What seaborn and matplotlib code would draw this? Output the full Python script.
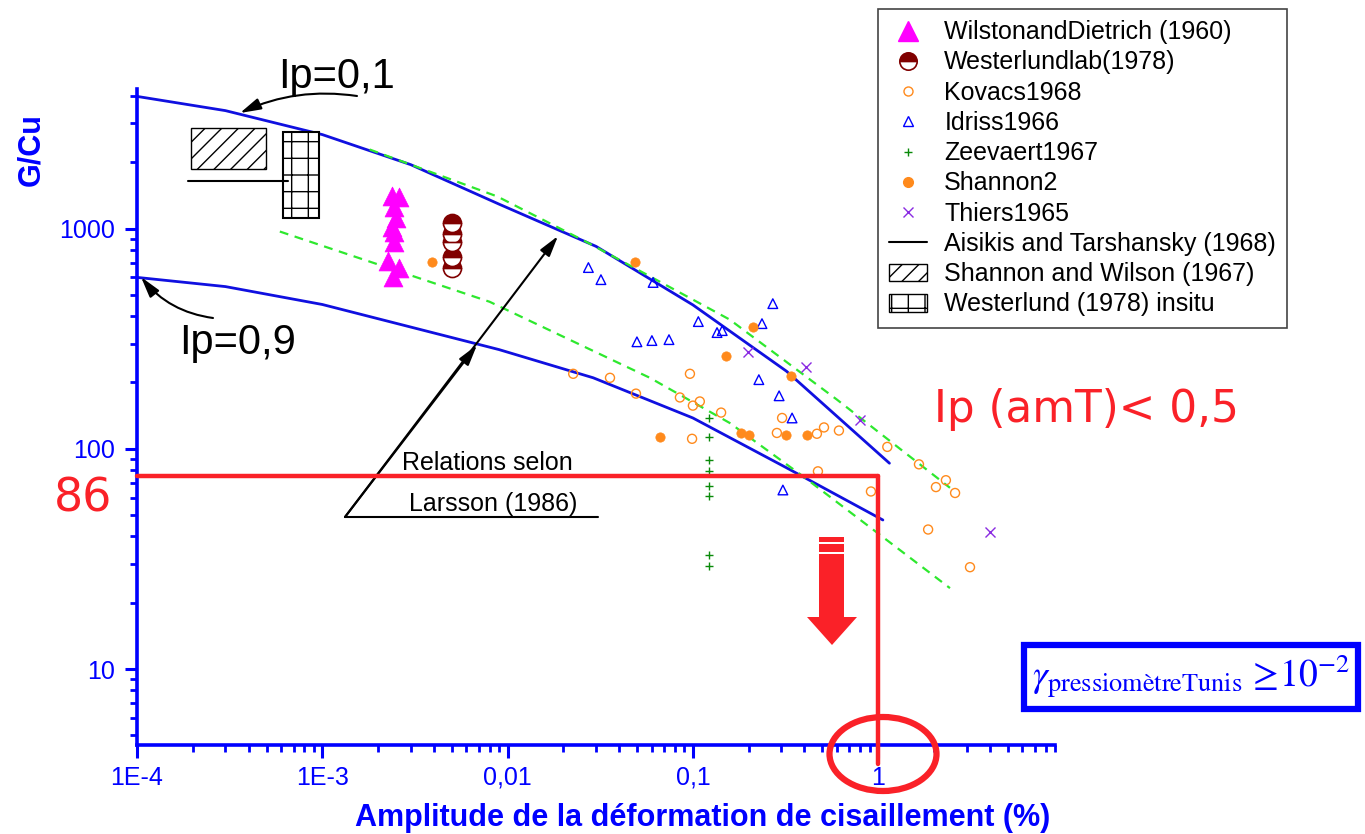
import numpy as np
import matplotlib
matplotlib.use("Agg")
import matplotlib.pyplot as plt
import seaborn as sns
from matplotlib.lines import Line2D
from matplotlib.patches import Patch, Rectangle, Ellipse, Polygon
from matplotlib.ticker import LogLocator, NullFormatter

# --- data (strain amplitude in %, G/Cu) ---
wilson_x = [0.00238, 0.0026, 0.00245, 0.0025, 0.00238, 0.00245, 0.00245, 0.00227, 0.0026, 0.0024]
wilson_y = [1400, 1390, 1250, 1120, 1020, 960, 870, 710, 665, 600]

wlab_x = [0.005, 0.005, 0.005, 0.005, 0.005]
wlab_y = [1065, 940, 865, 745, 665]

kovacs_x = [0.0226, 0.0357, 0.0493, 0.0964, 0.0851, 0.1, 0.109, 0.142, 0.099, 0.284, 0.303,
            0.467, 0.51, 0.614, 0.473, 0.914, 1.12, 1.66, 2.05, 2.32, 2.6, 1.86, 3.13]
kovacs_y = [219, 210, 178, 219, 171, 157, 164, 146, 111, 118, 138,
            117, 125, 121, 79, 64, 102, 85, 67, 72, 63, 43, 29]

idriss_x = [0.0273, 0.0319, 0.061, 0.0499, 0.0601, 0.0743, 0.107, 0.135, 0.144, 0.236, 0.27,
            0.227, 0.292, 0.343, 0.306]
idriss_y = [665, 586, 569, 306, 310, 313, 378, 337, 344, 370, 456,
            206, 174, 138, 65]

zeev_x = [0.1225, 0.1225, 0.1225, 0.1225, 0.1225, 0.1225, 0.1225, 0.1225]
zeev_y = [138, 113, 89, 79, 68, 61, 33, 29.4]

shannon_x = [0.0039, 0.0486, 0.0665, 0.211, 0.151, 0.338, 0.182, 0.201, 0.318, 0.413]
shannon_y = [708, 708, 113, 359, 265, 215, 118, 116, 116, 115]

thiers_x = [0.198, 0.407, 0.798, 4.01]
thiers_y = [276, 236, 135, 42]

# Aisikis and Tarshansky (1968) curves
ip01_x = [1e-4, 3e-4, 1e-3, 3e-3, 9e-3, 0.03, 0.1, 0.32, 1.15]
ip01_y = [3980, 3430, 2670, 1950, 1290, 830, 450, 225, 86]
ip09_x = [1e-4, 3e-4, 1e-3, 9e-3, 0.029, 0.1, 0.32, 1.06]
ip09_y = [600, 545, 452, 282, 210, 138, 82, 47.5]

# Larsson (1986) dashed bounds
lars_up_x = [0.0018, 0.0088, 0.027, 0.158, 0.6, 2.44]
lars_up_y = [2285, 1398, 864, 386, 167, 66.5]
lars_lo_x = [0.00059, 0.008, 0.0586, 0.158, 0.393, 2.44]
lars_lo_y = [969, 465, 210, 131, 75, 23.3]

# Shannon and Wilson (1967) / Westerlund (1978) insitu boxes
sw_box_x = [1.95e-4, 4.97e-4]
sw_box_y = [1854, 2850]
wi_box_x = [6.14e-4, 9.6e-4]
wi_box_y = [1122, 2730]
link_x = [1.88e-4, 6.5e-4]
link_y = [1652, 1652]

# red reading lines (G/Cu label "86" at strain 1 %)
red_y = 75
red_x = 1.0

x_ticks = [1e-4, 1e-3, 1e-2, 1e-1, 1]
x_tick_labels = ["1E-4", "1E-3", "0,01", "0,1", "1"]
y_ticks = [10, 100, 1000]
y_tick_labels = ["10", "100", "1000"]

labels = ["WilstonandDietrich (1960)", "Westerlundlab(1978)", "Kovacs1968", "Idriss1966",
          "Zeevaert1967", "Shannon2", "Thiers1965", "Aisikis and Tarshansky (1968)",
          "Shannon and Wilson (1967)", "Westerlund (1978) insitu"]

BLUE = "#0000ff"
LINE_BLUE = "#1010e0"
GREEN = "#2ee82e"
ORANGE = "#ff8a1c"
RED = "#fa2128"
MAGENTA = "#ff00ff"
MAROON = "#800000"
PURPLE = "#8a2be2"

sns.set_style("ticks")
plt.rcParams["font.family"] = ["Liberation Sans", "DejaVu Sans"]
plt.rcParams["mathtext.fontset"] = "stix"
plt.rcParams["text.color"] = "black"

W, H = 1365, 834
fig = plt.figure(figsize=(W / 100, H / 100), dpi=100)
ax = fig.add_axes([137 / W, 89 / H, 918 / W, 656 / H])
ax.set_xscale("log")
ax.set_yscale("log")


def fxy(px, py):
    # pixel position (from top-left) -> figure fraction
    return (px / W, 1 - py / H)


# curves
sns.lineplot(x=ip01_x, y=ip01_y, ax=ax, color=LINE_BLUE, lw=2, estimator=None, sort=False, zorder=2)
sns.lineplot(x=ip09_x, y=ip09_y, ax=ax, color=LINE_BLUE, lw=2, estimator=None, sort=False, zorder=2)
sns.lineplot(x=lars_up_x, y=lars_up_y, ax=ax, color=GREEN, lw=1.6, linestyle=(0, (4, 3)),
             estimator=None, sort=False, zorder=2)
sns.lineplot(x=lars_lo_x, y=lars_lo_y, ax=ax, color=GREEN, lw=1.6, linestyle=(0, (4, 3)),
             estimator=None, sort=False, zorder=2)

# scatter series
sns.scatterplot(x=wilson_x, y=wilson_y, ax=ax, marker="^", s=185, color=MAGENTA,
                edgecolor=MAGENTA, linewidth=0.5, zorder=4)
sns.lineplot(x=wlab_x, y=wlab_y, ax=ax, estimator=None, sort=False, marker="o", linestyle="",
             markersize=13, fillstyle="top", color=MAROON, markerfacecolor=MAROON,
             markerfacecoloralt="white", markeredgecolor=MAROON, markeredgewidth=1.2, zorder=4)
sns.scatterplot(x=kovacs_x, y=kovacs_y, ax=ax, marker="o", s=42, color=ORANGE,
                facecolor="none", edgecolor=ORANGE, linewidth=1.0, zorder=4)
sns.scatterplot(x=idriss_x, y=idriss_y, ax=ax, marker="^", s=48, color=BLUE,
                facecolor="none", edgecolor=BLUE, linewidth=1.0, zorder=4)
sns.scatterplot(x=zeev_x, y=zeev_y, ax=ax, marker="+", s=32, color="#0a8a0a", linewidth=1.0, zorder=4)
sns.scatterplot(x=shannon_x, y=shannon_y, ax=ax, marker="o", s=45, color=ORANGE,
                edgecolor=ORANGE, linewidth=0.5, zorder=4)
sns.scatterplot(x=thiers_x, y=thiers_y, ax=ax, marker="x", s=52, color=PURPLE, linewidth=1.0, zorder=4)

# boxes of Shannon & Wilson and Westerlund insitu
ax.add_patch(Rectangle((sw_box_x[0], sw_box_y[0]), sw_box_x[1] - sw_box_x[0], sw_box_y[1] - sw_box_y[0],
                       facecolor="white", edgecolor="k", hatch="//", lw=1, zorder=3))
ax.add_patch(Rectangle((wi_box_x[0], wi_box_y[0]), wi_box_x[1] - wi_box_x[0], wi_box_y[1] - wi_box_y[0],
                       facecolor="white", edgecolor="k", hatch="+", lw=1.5, zorder=3))
ax.plot(link_x, link_y, color="k", lw=1.5, zorder=3)

# red reading lines
ax.plot([1e-4, red_x], [red_y, red_y], color=RED, lw=3.2, zorder=5, clip_on=False)
ax.plot([red_x, red_x], [red_y, 3.7], color=RED, lw=3.2, zorder=5, clip_on=False)

# axes styling
ax.set_xlim(1e-4, 9.0)
ax.set_ylim(4.52, 4300)
ax.set_xticks(x_ticks, labels=x_tick_labels)
ax.set_yticks(y_ticks, labels=y_tick_labels)
for axis in (ax.xaxis, ax.yaxis):
    axis.set_minor_locator(LogLocator(base=10, subs=np.arange(2, 10), numticks=20))
    axis.set_minor_formatter(NullFormatter())
ax.tick_params(which="major", length=9, width=2.2, direction="out", colors=BLUE, labelsize=18)
ax.tick_params(which="minor", length=5, width=2, direction="out", color=BLUE)
ax.tick_params(axis="x", which="major", pad=6)
ax.tick_params(axis="y", which="major", pad=7)
for side in ("top", "right"):
    ax.spines[side].set_visible(False)
for side in ("left", "bottom"):
    ax.spines[side].set_color(BLUE)
    ax.spines[side].set_linewidth(2.6)

ax.set_xlabel("Amplitude de la déformation de cisaillement (%)", fontsize=22,
              fontweight="bold", color=BLUE)
ax.xaxis.set_label_coords((703 - 137) / 918, -(803 - 745) / 656)
ax.set_ylabel("G/Cu", fontsize=22, fontweight="bold", color=BLUE)
ax.yaxis.set_label_coords((46 - 137) / 918, (745 - 150) / 656)

# annotations
fig.text(*fxy(337, 88), "Ip=0,1", fontsize=30, ha="center", va="baseline")
fig.text(*fxy(238, 354), "Ip=0,9", fontsize=30, ha="center", va="baseline")
head = "-|>,head_length=0.9,head_width=0.25"
ax.annotate("", xy=fxy(240, 113), xycoords="figure fraction", xytext=fxy(357, 96),
            textcoords="figure fraction",
            arrowprops=dict(arrowstyle=head, color="k", lw=1.5, mutation_scale=14,
                            connectionstyle="arc3,rad=0.15", shrinkA=0, shrinkB=0))
ax.annotate("", xy=fxy(141, 277), xycoords="figure fraction", xytext=fxy(213, 318),
            textcoords="figure fraction",
            arrowprops=dict(arrowstyle=head, color="k", lw=1.5, mutation_scale=14,
                            connectionstyle="arc3,rad=-0.2", shrinkA=0, shrinkB=0))
for tip in [(558, 236), (477, 345)]:
    ax.annotate("", xy=fxy(*tip), xycoords="figure fraction", xytext=fxy(345, 517),
                textcoords="figure fraction",
                arrowprops=dict(arrowstyle=head, color="k", lw=1.5, mutation_scale=14,
                                shrinkA=0, shrinkB=0))
fig.text(*fxy(487, 470), "Relations selon", fontsize=18, ha="center", va="baseline")
fig.text(*fxy(493, 511), "Larsson (1986)", fontsize=18, ha="center", va="baseline")
fig.add_artist(Line2D([345 / W, 598 / W], [1 - 517 / H, 1 - 517 / H], color="k", lw=1.5))

fig.text(*fxy(83, 512), "86", fontsize=33, color=RED, family="DejaVu Sans", ha="center", va="baseline")
fig.text(*fxy(934, 422), "Ip (amT)< 0,5", fontsize=31.5, color=RED, family="DejaVu Sans",
         ha="left", va="baseline")

# red block arrow
arrow_px = [(819, 554), (844, 554), (844, 617), (857, 617), (832, 645), (807, 617), (819, 617)]
fig.add_artist(Polygon([fxy(*p) for p in arrow_px], closed=True, color=RED, lw=0))
for top, bot in [(537, 542), (544, 552)]:
    fig.add_artist(Rectangle(fxy(819, bot), 25 / W, (bot - top) / H, color=RED, lw=0))
fig.add_artist(Ellipse(fxy(883, 754), 107 / W, 74 / H, fill=False, edgecolor=RED, lw=4.5, zorder=6))

# gamma box
fig.text(*fxy(1191, 677), "$\\gamma_{\\mathrm{pressiomètreTunis}}\\,\\geq\\!10^{-2}$",
         fontsize=27, color=BLUE, ha="center", va="center",
         bbox=dict(boxstyle="square,pad=0.22", facecolor="white", edgecolor=BLUE, lw=4.5))

# legend
handles = [
    Line2D([], [], marker="^", ls="", color=MAGENTA, ms=14),
    Line2D([], [], marker="o", ls="", ms=12.5, fillstyle="top", markerfacecolor=MAROON,
           markerfacecoloralt="white", markeredgecolor=MAROON, markeredgewidth=1.2),
    Line2D([], [], marker="o", ls="", ms=6.5, markerfacecolor="none", markeredgecolor=ORANGE),
    Line2D([], [], marker="^", ls="", ms=7, markerfacecolor="none", markeredgecolor=BLUE),
    Line2D([], [], marker="+", ls="", ms=6, color="#0a8a0a"),
    Line2D([], [], marker="o", ls="", ms=7, color=ORANGE),
    Line2D([], [], marker="x", ls="", ms=7, color=PURPLE),
    Line2D([], [], color="k", lw=1.5),
    Patch(facecolor="white", edgecolor="k", hatch="//"),
    Patch(facecolor="white", edgecolor="k", hatch="+"),
]
leg = fig.legend(handles, labels, loc="upper left", bbox_to_anchor=fxy(878, 9), fontsize=18,
                 frameon=True, fancybox=False, edgecolor="#444444", framealpha=1,
                 borderpad=0.45, labelspacing=0.25, handlelength=1.5, handletextpad=0.7,
                 borderaxespad=0)
leg.get_frame().set_linewidth(1.2)

fig.savefig("out.png", dpi=100)
